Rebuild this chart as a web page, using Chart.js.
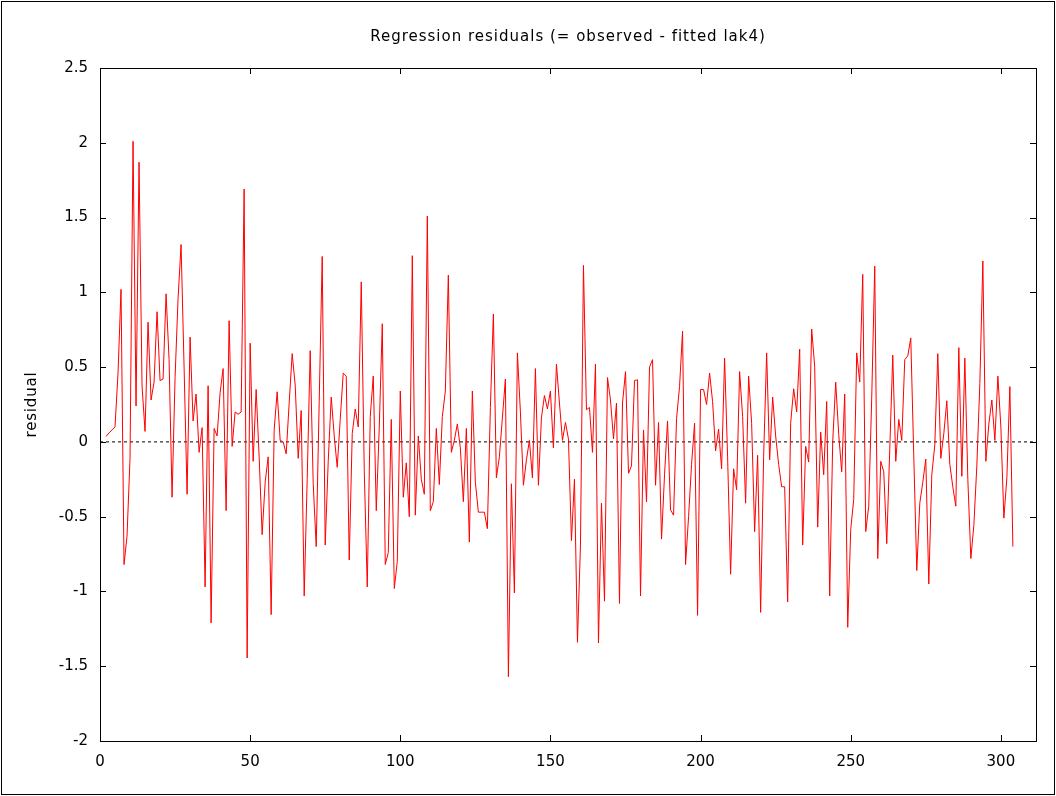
<!DOCTYPE html>
<html>
<head>
<meta charset="utf-8">
<title>Regression residuals</title>
<script src="https://cdn.jsdelivr.net/npm/chart.js@4.4.0/dist/chart.umd.min.js"></script>
<style>
    html, body { margin: 0; padding: 0; background: #fff; }
    #wrap { width: 1056px; height: 796px; }
</style>
</head>
<body>
<div id="wrap"><canvas id="resid-chart" width="1056" height="796"></canvas></div>
<script>
// Residuals, observation 2 .. 304
const firstObs = 2;
const residuals = [
    0.036, 0.06, 0.08, 0.10, 0.46, 1.02, -0.82, -0.63, -0.11, 2.01,
    0.24, 1.87, 0.375, 0.07, 0.80, 0.28, 0.40, 0.87, 0.41, 0.42,
    0.99, 0.55, -0.37, 0.43, 0.96, 1.32, 0.5, -0.35, 0.70, 0.14,
    0.32, -0.07, 0.095, -0.97, 0.375, -1.21, 0.09, 0.04, 0.33, 0.49,
    -0.46, 0.81, -0.03, 0.20, 0.185, 0.20, 1.69, -1.445, 0.66, -0.13,
    0.35, -0.1, -0.62, -0.27, -0.10, -1.155, 0.08, 0.335, 0.01, 0.00,
    -0.08, 0.26, 0.59, 0.38, -0.11, 0.21, -1.03, -0.25, 0.61, -0.28,
    -0.70, 0.27, 1.24, -0.69, -0.13, 0.30, 0.04, -0.17, 0.15, 0.46,
    0.44, -0.79, 0.055, 0.22, 0.10, 1.07, -0.19, -0.97, 0.17, 0.44,
    -0.46, 0.1, 0.79, -0.82, -0.74, 0.15, -0.98, -0.80, 0.34, -0.37,
    -0.14, -0.50, 1.245, -0.49, 0.04, -0.25, -0.35, 1.51, -0.46, -0.40,
    0.09, -0.285, 0.17, 0.34, 1.115, -0.07, 0.01, 0.12, -0.04, -0.40,
    0.09, -0.67, 0.34, -0.27, -0.47, -0.47, -0.47, -0.58, 0.23, 0.855,
    -0.24, -0.10, 0.16, 0.42, -1.57, -0.28, -1.01, 0.595, 0.20, -0.29,
    -0.12, 0.01, -0.24, 0.49, -0.29, 0.16, 0.31, 0.22, 0.34, -0.04,
    0.52, 0.26, 0.01, 0.13, 0.02, -0.66, -0.25, -1.34, -0.69, 1.18,
    0.215, 0.23, -0.07, 0.52, -1.345, -0.41, -1.065, 0.43, 0.28, 0.02,
    0.26, -1.08, 0.26, 0.47, -0.21, -0.16, 0.41, 0.415, -1.03, 0.08,
    -0.40, 0.50, 0.55, -0.29, 0.13, -0.65, -0.22, 0.14, -0.455, -0.49,
    0.155, 0.37, 0.74, -0.82, -0.50, -0.15, 0.125, -1.16, 0.35, 0.35,
    0.25, 0.46, 0.27, -0.06, 0.085, -0.18, 0.56, -0.1, -0.885, -0.18,
    -0.32, 0.47, 0.17, -0.41, 0.44, 0.125, -0.60, -0.09, -1.14, -0.1,
    0.595, -0.12, 0.30, 0.04, -0.15, -0.30, -0.30, -1.07, 0.125, 0.355,
    0.20, 0.62, -0.69, -0.03, -0.135, 0.755, 0.505, -0.57, 0.065, -0.22,
    0.27, -1.03, 0.0, 0.40, 0.05, -0.20, 0.32, -1.24, -0.585, -0.385,
    0.595, 0.40, 1.12, -0.60, -0.43, 0.3, 1.175, -0.78, -0.13, -0.20,
    -0.68, -0.05, 0.58, -0.13, 0.15, 0.01, 0.55, 0.575, 0.695, -0.1,
    -0.86, -0.41, -0.27, -0.115, -0.95, -0.22, -0.02, 0.59, -0.11, 0.055,
    0.275, -0.15, -0.3, -0.43, 0.63, -0.23, 0.56, -0.25, -0.78, -0.56,
    -0.16, 0.39, 1.21, -0.13, 0.12, 0.28, 0.01, 0.44, 0.1, -0.51,
    -0.24, 0.37, -0.70
];

const xTicks = [0, 50, 100, 150, 200, 250, 300];
const yTicks = [-2, -1.5, -1, -0.5, 0, 0.5, 1, 1.5, 2, 2.5];
const xRange = [0, 311.7];
const yRange = [-2, 2.5];

const titleText = 'Regression residuals (= observed - fitted lak4)';
const yLabel = 'residual';

const residPoints = residuals.map((v, i) => ({ x: firstObs + i, y: v }));
const zeroLine = [{ x: xRange[0], y: 0 }, { x: xRange[1], y: 0 }];

const fontFamily = 'DejaVu Sans';
const tickFont = { family: fontFamily, size: 15 };

// gnuplot-style frame: box round the plot area, inward mirrored ticks, titles
const framePlugin = {
    id: 'frame',
    beforeDraw(chart) {
        const ctx = chart.ctx;
        ctx.save();
        ctx.fillStyle = '#fff';
        ctx.fillRect(0, 0, chart.width, chart.height);
        ctx.strokeStyle = '#000';
        ctx.lineWidth = 1;
        ctx.strokeRect(1.5, 1.5, chart.width - 3, chart.height - 3);
        ctx.restore();
    },
    afterDraw(chart) {
        const ctx = chart.ctx;
        const a = chart.chartArea;
        const xs = chart.scales.x, ys = chart.scales.y;
        const len = 6;
        ctx.save();
        ctx.strokeStyle = '#000';
        ctx.lineWidth = 1;
        ctx.beginPath();
        xTicks.forEach(v => {
            const px = Math.round(xs.getPixelForValue(v)) + 0.5;
            ctx.moveTo(px, a.bottom);
            ctx.lineTo(px, a.bottom - len);
            ctx.moveTo(px, a.top);
            ctx.lineTo(px, a.top + len);
        });
        yTicks.forEach(v => {
            const py = Math.round(ys.getPixelForValue(v)) + 0.5;
            ctx.moveTo(a.left, py);
            ctx.lineTo(a.left + len, py);
            ctx.moveTo(a.right, py);
            ctx.lineTo(a.right - len, py);
        });
        ctx.stroke();
        ctx.strokeRect(Math.round(a.left) + 0.5, Math.round(a.top) + 0.5,
            Math.round(a.right - a.left), Math.round(a.bottom - a.top));

        // title and y axis label
        ctx.fillStyle = '#000';
        ctx.font = '15px "' + fontFamily + '"';
        ctx.textAlign = 'center';
        ctx.textBaseline = 'middle';
        ctx.letterSpacing = '1px';
        ctx.fillText(titleText, (a.left + a.right) / 2, 37);
        ctx.letterSpacing = '0.8px';
        ctx.translate(32, (a.top + a.bottom) / 2);
        ctx.rotate(-Math.PI / 2);
        ctx.fillText(yLabel, 0, 0);
        ctx.restore();
    }
};

const ctx = document.getElementById('resid-chart').getContext('2d');
new Chart(ctx, {
    type: 'line',
    data: {
        datasets: [{
            label: 'residual',
            data: residPoints,
            borderColor: '#ff0000',
            borderWidth: 1,
            pointRadius: 0,
            tension: 0,
            order: 1
        }, {
            label: 'zero',
            data: zeroLine,
            borderColor: '#000',
            borderWidth: 1,
            borderDash: [3, 3],
            pointRadius: 0,
            order: 2
        }]
    },
    options: {
        responsive: false,
        animation: false,
        layout: { padding: { left: 0, right: 20, top: 68, bottom: 0 } },
        plugins: {
            legend: { display: false },
            tooltip: { enabled: false },
            title: { display: false }
        },
        scales: {
            x: {
                type: 'linear',
                min: xRange[0],
                max: xRange[1],
                grid: { display: false, drawTicks: false },
                border: { display: false },
                afterBuildTicks: s => { s.ticks = xTicks.map(v => ({ value: v })); },
                afterFit: s => { s.height = 55; },
                ticks: {
                    color: '#000',
                    font: tickFont,
                    padding: 12,
                    maxRotation: 0,
                    callback: v => String(v)
                }
            },
            y: {
                min: yRange[0],
                max: yRange[1],
                grid: { display: false, drawTicks: false },
                border: { display: false },
                afterBuildTicks: s => { s.ticks = yTicks.map(v => ({ value: v })); },
                afterFit: s => { s.width = 100; },
                ticks: {
                    color: '#000',
                    font: tickFont,
                    padding: 12,
                    callback: v => String(v)
                }
            }
        }
    },
    plugins: [framePlugin]
});
</script>
</body>
</html>
